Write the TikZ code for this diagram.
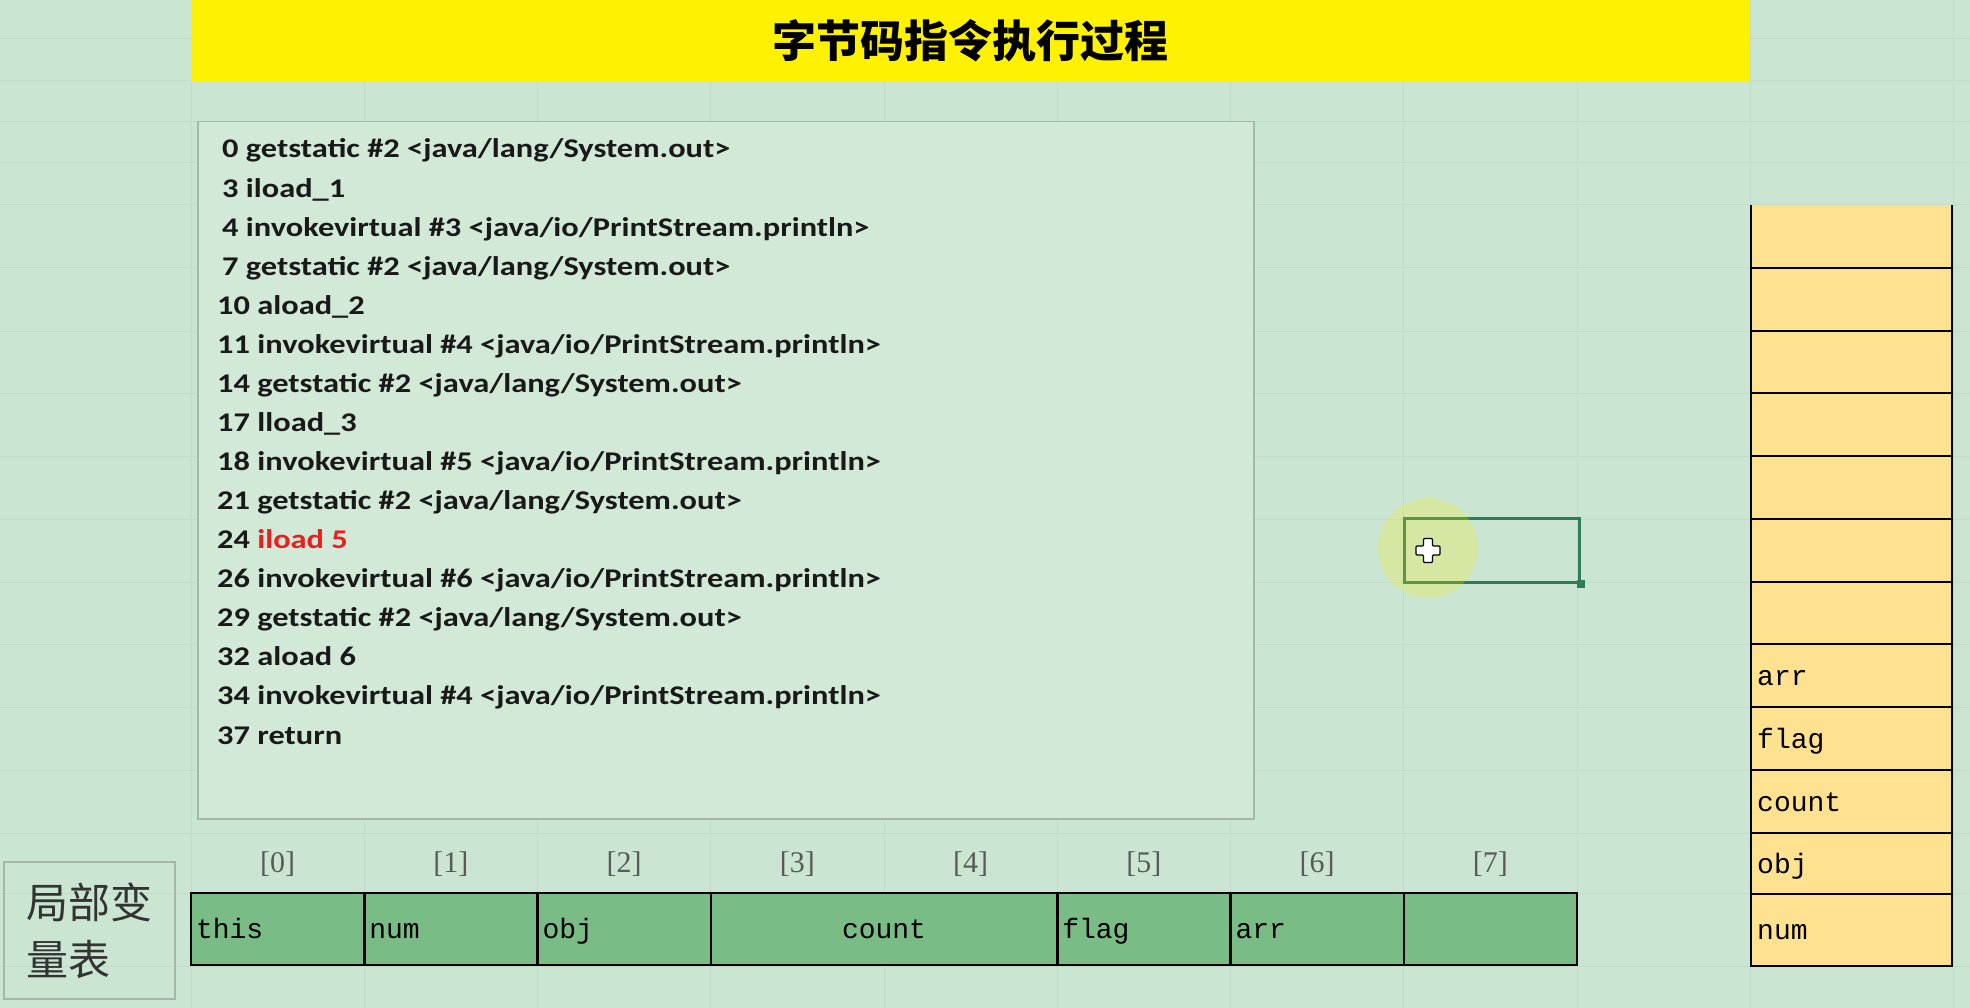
\documentclass[tikz,border=0pt]{standalone}
\usepackage{fontspec}
\setmainfont{Carlito}
\newfontfamily\codefont{Carlito}[FakeStretch=1.2]
\newfontfamily\cellfont{Liberation Mono}
\newfontfamily\idxfont{Liberation Serif}
\newfontfamily\cjk{Noto Sans CJK SC}

\definecolor{bgc}{RGB}{202,229,209}
\definecolor{gridc}{RGB}{194,218,200}
\definecolor{titleyellow}{RGB}{255,242,0}
\definecolor{cellgreen}{RGB}{122,188,134}
\definecolor{stackc}{RGB}{255,226,143}
\definecolor{selgreen}{RGB}{46,125,85}
\definecolor{codered}{RGB}{235,30,30}
\definecolor{idxgray}{RGB}{90,90,90}
\definecolor{boxgray}{RGB}{165,182,170}

\tikzset{
  codeline/.style={anchor=base west, inner sep=0pt, text=black!90,
    font=\codefont\bfseries\fontsize{27}{30}\selectfont},
  lvcell/.style={draw=black, line width=2.5pt, fill=cellgreen, anchor=north west,
    inner xsep=5pt, inner ysep=0pt, outer sep=0pt, minimum height=72pt,
    text width=163.25pt, align=left, text height=25pt, text depth=5.6pt,
    font=\cellfont\fontsize{28}{30}\selectfont},
  stacktxt/.style={anchor=west, inner xsep=6pt, inner ysep=0pt,
    text height=25pt, text depth=5.6pt, font=\cellfont\fontsize{28}{30}\selectfont},
  idx/.style={text=idxgray, inner sep=0pt, font=\idxfont\fontsize{30}{32}\selectfont},
  stackline/.style={black, line width=2.5pt}
}

\begin{document}
\begin{tikzpicture}[x=1pt, y=-1pt]
  \useasboundingbox (0,0) rectangle (1970,1008);
  % 1. 背景与表格网格
  \fill[bgc] (0,0) rectangle (1970,1008);
  \foreach \y in {39,81,122,163,205,268,331,393,456,519,582,644,707,770,833,893,966}
    \draw[gridc, line width=1pt] (0,\y) -- (1970,\y);
  \foreach \x in {191,364.25,537.5,710.75,884,1057.25,1230.5,1403.75,1577,1750,1953}
    \draw[gridc, line width=1pt] (\x,0) -- (\x,1008);

  % 2. 标题栏
  \node[fill=titleyellow, anchor=north west, inner sep=0pt, minimum width=1559pt,
    minimum height=82pt, font=\cjk\bfseries\fontsize{44}{46}\selectfont] (title) at (191,0)
    {字节码指令执行过程};

  % 3. 字节码指令
  \node[draw=boxgray, line width=1.5pt, fill=bgc!85!white, anchor=north west,
    inner sep=0pt, minimum width=1056pt, minimum height=697pt] (codebox) at (197,121) {};
  \foreach \t [count=\k from 0] in {
      {\hspace*{5pt}0 getstatic \#2 <java/lang/System.out>},
      {\hspace*{5pt}3 iload\_1},
      {\hspace*{5pt}4 invokevirtual \#3 <java/io/PrintStream.println>},
      {\hspace*{5pt}7 getstatic \#2 <java/lang/System.out>},
      {10 aload\_2},
      {11 invokevirtual \#4 <java/io/PrintStream.println>},
      {14 getstatic \#2 <java/lang/System.out>},
      {17 lload\_3},
      {18 invokevirtual \#5 <java/io/PrintStream.println>},
      {21 getstatic \#2 <java/lang/System.out>},
      {24 \textcolor{codered}{iload 5}},
      {26 invokevirtual \#6 <java/io/PrintStream.println>},
      {29 getstatic \#2 <java/lang/System.out>},
      {32 aload 6},
      {34 invokevirtual \#4 <java/io/PrintStream.println>},
      {37 return}}
    \node[codeline] (op\k) at (217,{158+39.07*\k}) {\t};

  % 4. 局部变量表
  \node[draw=boxgray, line width=1.2pt, minimum width=171pt, minimum height=137pt,
    text width=126pt, align=left, text=black!80,
    font=\cjk\fontsize{42}{57}\selectfont] (lvname) at (89.5,930.5) {局部变\\量表};
  \foreach \i in {0,...,7}
    \node[idx] (idx\i) at ({191+173.25*(\i+0.5)},864) {[\i]};
  \node[lvcell] (lv0) at (191,893) {this};
  \node[lvcell] (lv1) at (364.25,893) {num};
  \node[lvcell] (lv2) at (537.5,893) {obj};
  \node[lvcell, text width=336.5pt, align=center] (lv3) at (710.75,893) {count};
  \node[lvcell] (lv5) at (1057.25,893) {flag};
  \node[lvcell] (lv6) at (1230.5,893) {arr};
  \node[lvcell] (lv7) at (1403.75,893) {};

  % 5. 操作数栈
  \fill[stackc] (1751,205) rectangle (1952,966);
  \foreach \y in {268,331,393,456,519,582,644,707,770,833,894}
    \draw[stackline] (1751,\y) -- (1952,\y);
  \draw[stackline] (1751,205) -- (1751,966) -- (1952,966) -- (1952,205);
  \node[stacktxt] (st4) at (1751,675.5) {arr};
  \node[stacktxt] (st3) at (1751,738.5) {flag};
  \node[stacktxt] (st2) at (1751,801.5) {count};
  \node[stacktxt] (st1) at (1751,863.5) {obj};
  \node[stacktxt] (st0) at (1751,930) {num};

  % 6. 选中单元格与光标
  \node[draw=selgreen, line width=2.5pt, anchor=north west, inner sep=0pt,
    minimum width=175pt, minimum height=64pt] (sel) at (1403,517) {};
  \fill[selgreen] ([shift={(-4,-4)}]sel.south east) rectangle ++(8,8);
  \fill[yellow, opacity=0.22] (1428,548) circle (50);
  \draw[black, line width=1.2pt, fill=white, rounded corners=1pt]
    (1423.5,538.5) -- (1432.5,538.5) -- (1432.5,546) -- (1440,546) -- (1440,555)
    -- (1432.5,555) -- (1432.5,562.5) -- (1423.5,562.5) -- (1423.5,555)
    -- (1416,555) -- (1416,546) -- (1423.5,546) -- cycle;
\end{tikzpicture}
\end{document}
